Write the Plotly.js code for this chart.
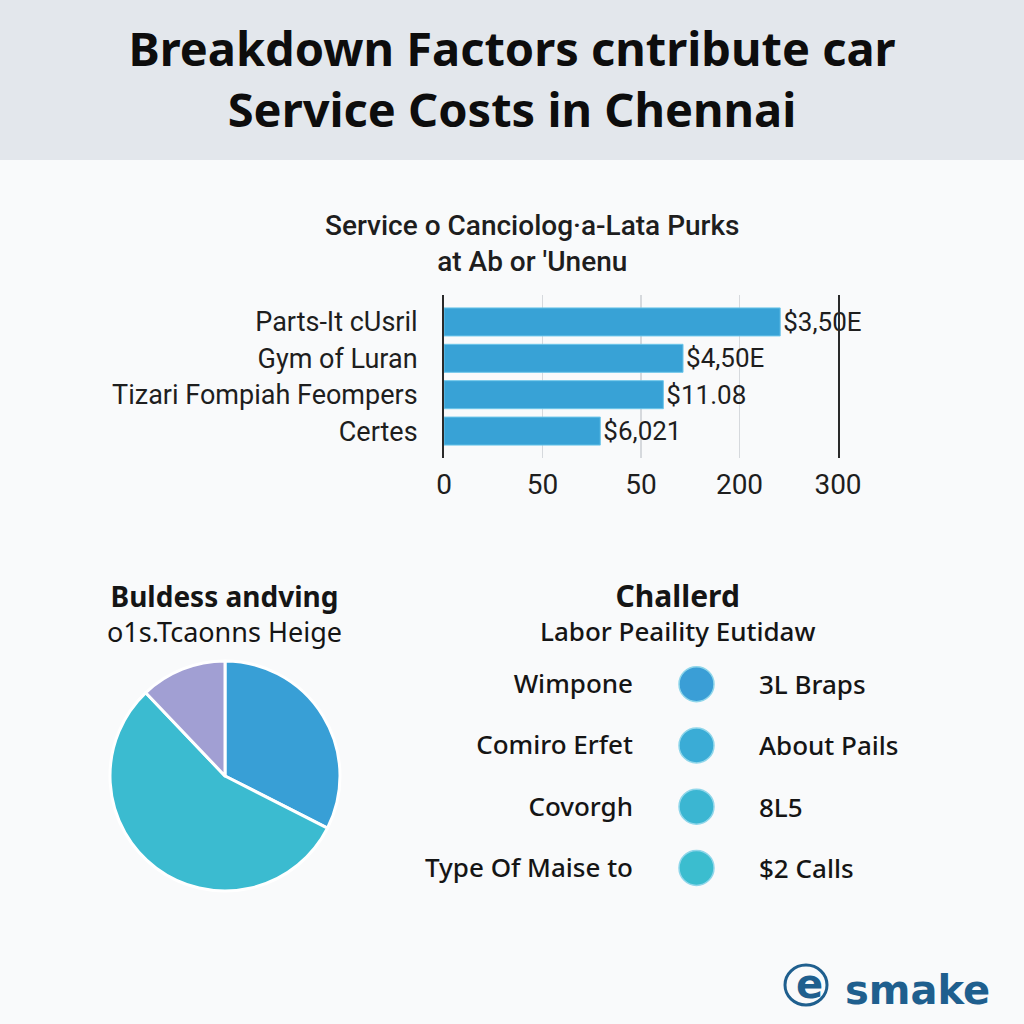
<!DOCTYPE html>
<html>
<head>
<meta charset="utf-8">
<script src="https://cdn.plot.ly/plotly-3.0.1.min.js"></script>
<style>html,body{margin:0;padding:0;background:#f9fafb;}#chart{width:1024px;height:1024px;}</style>
</head>
<body>
<div id="chart"></div>
<script>
// ---- Data ----
var mainTitle = "Breakdown Factors cntribute car<br>Service Costs in Chennai";
var barTitle = "Service o Canciolog·a-Lata Purks<br>at Ab or 'Unenu";
var barCategories = ["Parts-It cUsril", "Gym of Luran", "Tizari Fompiah Feompers", "Certes"];
var barValues = [256, 182, 167, 119];
var barLabels = ["$3,50E", "$4,50E", "$11.08", "$6,021"];
var barTickVals = [0, 75, 150, 225, 300];
var barTickText = ["0", "50", "50", "200", "300"];

var pieTitle = "<b><span style='font-size:28px'>Buldess andving</span></b><br>o1s.Tcaonns Heige";
var pieValues = [32.5, 55.4, 12.1];
var pieColors = ["#389fd6", "#3bbbd0", "#a19fd3"];

var rowTitle = "<b><span style='font-size:30px'>Challerd</span></b><br>Labor Peaility Eutidaw";
var rowLeft = ["Wimpone", "Comiro Erfet", "Covorgh", "Type Of Maise to"];
var rowRight = ["3L Braps", "About Pails", "8L5", "$2 Calls"];
var rowColors = ["#3a9ed6", "#3aacd6", "#3bb6d2", "#3bbdcf"];

var logoText = "smake";

// ---- Figure ----
var px = function (v) { return v / 1024; };
var py = function (v) { return 1 - v / 1024; };

var sansUI = "Noto Sans, Open Sans, sans-serif";
var robo = "Roboto, Liberation Sans, sans-serif";
var logoColor = "#1f5f8e";

var traces = [
  {
    type: "bar", orientation: "h",
    x: barValues, y: barCategories,
    text: barLabels, textposition: "outside", cliponaxis: false,
    constraintext: "none",
    textfont: {family: robo, size: 26, color: "#1e1e1e"},
    marker: {color: "#38a2d6", line: {color: "#6cc6ea", width: 1}},
    width: 0.77, xaxis: "x", yaxis: "y", hoverinfo: "none"
  },
  {
    type: "pie", values: pieValues, sort: false, direction: "clockwise", rotation: 0,
    marker: {colors: pieColors, line: {color: "#ffffff", width: 3}},
    textinfo: "none", hoverinfo: "none",
    domain: {x: [px(110), px(340)], y: [py(891), py(661)]}
  },
  {
    type: "scatter", mode: "markers",
    x: rowLeft.map(function () { return 0; }), y: rowLeft,
    marker: {size: 35, color: rowColors, line: {color: "#8fd6ea", width: 1.5}},
    xaxis: "x3", yaxis: "y3", hoverinfo: "none"
  }
];

function ann(text, x, y, font, extra) {
  var a = {text: text, x: px(x), y: py(y), xref: "paper", yref: "paper", xanchor: "center",
           yanchor: "middle", showarrow: false, font: font, align: "center"};
  for (var k in (extra || {})) a[k] = extra[k];
  return a;
}

var annotations = [
  ann(barTitle, 532, 243, {family: robo, size: 28, color: "#1e1e1e", weight: 500}),
  ann(pieTitle, 224, 613, {family: sansUI, size: 27, color: "#151515"}),
  ann(rowTitle, 677, 612, {family: sansUI, size: 26, color: "#151515", weight: 500}),
  ann("<b>" + logoText + "</b>", 917, 990, {family: "DejaVu Sans, sans-serif", size: 40, color: logoColor}),
  ann("<b>e</b>", 809, 984, {family: "DejaVu Sans, sans-serif", size: 40, color: logoColor})
];
rowRight.forEach(function (t, i) {
  annotations.push({text: t, x: 1, y: rowLeft[i], xref: "x3", yref: "y3", xanchor: "left", yanchor: "middle",
    xshift: 35, showarrow: false, font: {family: sansUI, size: 26, color: "#151515", weight: 500}});
});

var layout = {
  width: 1024, height: 1024,
  margin: {l: 0, r: 0, t: 0, b: 0},
  paper_bgcolor: "#f9fafb", plot_bgcolor: "rgba(0,0,0,0)",
  showlegend: false,
  title: {text: "<b>" + mainTitle + "</b>", x: 0.5, xanchor: "center", y: py(66), yanchor: "middle",
          font: {family: "Noto Sans, Open Sans, sans-serif", size: 47, color: "#0d0d0d"}},
  xaxis: {domain: [px(444), px(838)], range: [0, 300], anchor: "y",
          tickvals: barTickVals, ticktext: barTickText, showgrid: true, gridcolor: "#d6d9dd", gridwidth: 1.5,
          zeroline: false, showline: false, ticks: "", ticklabelstandoff: 7,
          tickfont: {family: robo, size: 28, color: "#1e1e1e"}, fixedrange: true},
  yaxis: {domain: [py(458), py(295)], type: "category", range: [3.74, -0.74], anchor: "x",
          showline: true, mirror: true, linecolor: "#2a2a2a", linewidth: 2, showgrid: false,
          ticks: "", ticklabelstandoff: 19, tickfont: {family: robo, size: 27, color: "#1e1e1e"}},
  xaxis3: {domain: [px(671), px(722)], range: [-1, 1], anchor: "y3", visible: false},
  yaxis3: {domain: [py(898.5), py(653.5)], type: "category", range: [3.5, -0.5], anchor: "x3",
           showline: false, showgrid: false, zeroline: false, ticks: "", ticklabelstandoff: 37,
           tickfont: {family: sansUI, size: 26, color: "#151515", weight: 500}},
  shapes: [
    {type: "rect", xref: "paper", yref: "paper", x0: 0, x1: 1, y0: py(160), y1: 1,
     fillcolor: "#e3e7ec", line: {width: 0}, layer: "below"},
    {type: "circle", xref: "paper", yref: "paper", x0: px(785), x1: px(827), y0: py(1005), y1: py(965),
     line: {color: logoColor, width: 3}, layer: "above"}
  ],
  annotations: annotations
};

Plotly.newPlot("chart", traces, layout, {displayModeBar: false, staticPlot: true});
</script>
</body>
</html>
